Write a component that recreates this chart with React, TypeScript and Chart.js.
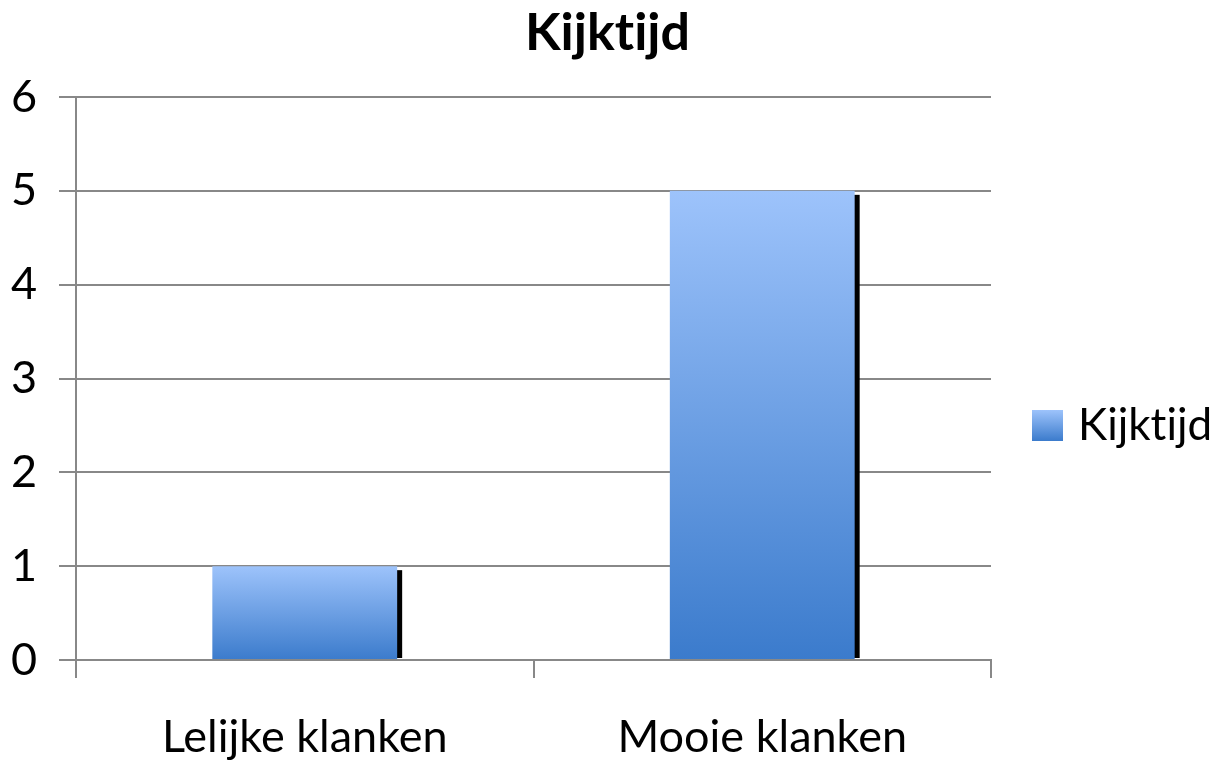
import React, { useEffect, useRef } from "react";
import { Chart, registerables, layouts } from "chart.js";

Chart.register(...registerables);

const categories = ["Lelijke klanken", "Mooie klanken"];
const seriesLabel = "Kijktijd";
const seriesValues = [1, 5];
const chartTitle = "Kijktijd";
const yTicks = [0, 1, 2, 3, 4, 5, 6];

const FONT = "Lato, 'Open Sans', sans-serif";
const TOP_COLOR = "#9dc3fb";
const BOTTOM_COLOR = "#3b7bcc";

const noLigatures = {
  id: "noLigatures",
  beforeDraw(chart: any) {
    const ctx: any = chart.ctx;
    try {
      ctx.textRendering = "optimizeSpeed";
    } catch (e) {}
  },
};

const shadowPlugin = {
  id: "barShadow",
  beforeDatasetsDraw(chart: any) {
    const ctx = chart.ctx;
    chart.data.datasets.forEach((_: any, i: number) => {
      const meta = chart.getDatasetMeta(i);
      meta.data.forEach((el: any) => {
        const { x, y, base, width } = el.getProps(["x", "y", "base", "width"], true);
        ctx.save();
        ctx.fillStyle = "#000";
        ctx.fillRect(x - width / 2 + 5, y + 4, width, base - y - 5);
        ctx.restore();
      });
    });
  },
};

// Right-side layout box that reserves the legend space and draws the legend
const legendBoxPlugin = {
  id: "legendBox",
  beforeInit(chart: any) {
    const box: any = {
      position: "right",
      weight: 0,
      fullSize: false,
      options: { stackWeight: 1 },
      width: 224,
      height: 0,
      left: 0,
      top: 0,
      right: 0,
      bottom: 0,
      isHorizontal() {
        return false;
      },
      update(maxWidth: number, maxHeight: number) {
        this.width = 224;
        this.height = maxHeight;
      },
      draw() {
        const ctx = chart.ctx;
        const size = 31;
        const x = this.left + 41;
        const cy = (chart.chartArea.top + chart.height) / 2 - 3;
        const g = ctx.createLinearGradient(0, cy - size / 2, 0, cy + size / 2);
        g.addColorStop(0, TOP_COLOR);
        g.addColorStop(1, BOTTOM_COLOR);
        ctx.save();
        ctx.fillStyle = g;
        ctx.fillRect(x, cy - size / 2, size, size);
        ctx.fillStyle = "#000";
        ctx.font = `44px ${FONT}`;
        ctx.textBaseline = "middle";
        ctx.textAlign = "left";
        ctx.fillText(chart.data.datasets[0].label, x + size + 15, cy);
        ctx.restore();
      },
    };
    layouts.addBox(chart, box);
  },
};

export default function App() {
  const ref = useRef<HTMLCanvasElement>(null);
  useEffect(() => {
    if (!ref.current) return;
    const chart = new Chart(ref.current, {
      type: "bar",
      data: {
        labels: categories,
        datasets: [
          {
            label: seriesLabel,
            data: seriesValues,
            barPercentage: 0.404,
            categoryPercentage: 1,
            backgroundColor: (c: any) => {
              const ch = c.chart;
              const ys = ch.scales?.y;
              if (!ys || !ch.chartArea || c.raw == null) return TOP_COLOR;
              const top = ys.getPixelForValue(c.raw);
              const base = ys.getPixelForValue(0);
              const g = ch.ctx.createLinearGradient(0, top, 0, base);
              g.addColorStop(0, TOP_COLOR);
              g.addColorStop(1, BOTTOM_COLOR);
              return g;
            },
            borderWidth: 0,
          },
        ],
      },
      options: {
        responsive: false,
        animation: false,
        layout: { padding: 0 },
        plugins: {
          legend: { display: false },
          tooltip: { enabled: false },
          title: {
            display: true,
            text: chartTitle,
            color: "#000",
            fullSize: true,
            font: { family: FONT, size: 52, weight: "bold", lineHeight: 1.2 },
            padding: { top: 2, bottom: 32.6 },
          },
        },
        scales: {
          x: {
            offset: true,
            grid: {
              offset: true,
              drawOnChartArea: false,
              drawTicks: true,
              tickLength: 18,
              color: "#888",
              lineWidth: 2,
            },
            border: { display: true, color: "#888", width: 2 },
            ticks: {
              color: "#000",
              font: { family: FONT, size: 45, lineHeight: 1.2 },
              padding: 32,
              maxRotation: 0,
            },
            afterFit: (s: any) => {
              s.height = 100;
            },
          },
          y: {
            min: 0,
            max: 6,
            afterBuildTicks: (s: any) => {
              s.ticks = yTicks.map((v) => ({ value: v }));
            },
            grid: {
              color: "#888",
              lineWidth: 2,
              tickLength: 17,
            },
            border: { display: true, color: "#888", width: 2 },
            ticks: {
              color: "#000",
              font: { family: FONT, size: 45 },
              padding: 22,
            },
            afterFit: (s: any) => {
              s.width = 76;
            },
          },
        },
      },
      plugins: [noLigatures, legendBoxPlugin, shadowPlugin],
    });
    return () => chart.destroy();
  }, []);
  return (
    <div style={{ position: "absolute", left: 0, top: 0, width: 1215, height: 760, background: "#fff" }}>
      <canvas ref={ref} width={1215} height={760} />
    </div>
  );
}
